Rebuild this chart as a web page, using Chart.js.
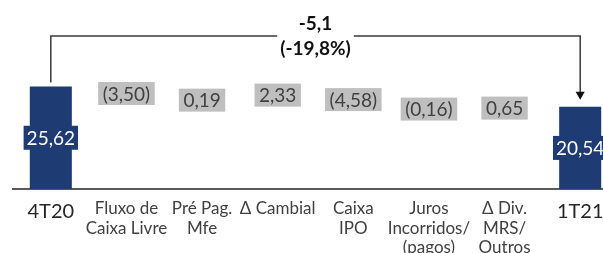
<!DOCTYPE html>
<html lang="pt">
<head>
  <meta charset="UTF-8">
  <title>Dívida Líquida 4T20 x 1T21</title>
  <script src="https://cdn.jsdelivr.net/npm/chart.js"></script>
  <style>
    html, body { margin: 0; padding: 0; overflow: hidden; background: #fff; }
    #wrap { width: 620px; height: 253px; position: relative; }
  </style>
</head>
<body>
  <div id="wrap"><canvas id="grafico"></canvas></div>

  <script>
    // dados
    const categorias = ['4T20', ['Fluxo de', 'Caixa Livre'], ['Pré Pag.', 'Mfe'], 'Δ Cambial',
      ['Caixa', 'IPO'], ['Juros', 'Incorridos/', '(pagos)'], ['Δ Div.', 'MRS/', 'Outros'], '1T21'];
    const saldoInicial = 25.62;
    const variacoes = [-3.50, 0.19, 2.33, -4.58, -0.16, 0.65];
    const saldoFinal = 20.54;
    const textoVariacao = ['-5,1', '(-19,8%)'];

    const AZUL = '#1F3B73';
    const CINZA = '#BFBFBF';
    const FONTE = 'Lato, "Noto Sans", sans-serif';

    // barras flutuantes (cascata)
    const barras = [[0, saldoInicial]];
    const valores = [saldoInicial];
    let acum = saldoInicial;
    variacoes.forEach(v => {
      barras.push([acum, acum + v]);
      valores.push(v);
      acum += v;
    });
    barras.push([0, saldoFinal]);
    valores.push(saldoFinal);

    const ultimo = barras.length - 1;
    const extremo = (i) => i === 0 || i === ultimo;
    const cores = barras.map((b, i) => extremo(i) ? AZUL : 'rgba(0,0,0,0)');

    function formatar(v) {
      const s = Math.abs(v).toFixed(2).replace('.', ',');
      return v < 0 ? '(' + s + ')' : s;
    }

    const rotulos = {
      id: 'rotulos',
      afterDatasetsDraw(chart) {
        const ctx = chart.ctx;
        const meta = chart.getDatasetMeta(0);
        const y = chart.scales.y;
        ctx.save();
        ctx.textAlign = 'center';
        ctx.textBaseline = 'middle';
        ctx.font = '19px ' + FONTE;

        meta.data.forEach((el, i) => {
          const txt = formatar(valores[i]);
          const cx = el.x;
          const cy = (el.y + el.base) / 2;
          const w = ctx.measureText(txt).width + (extremo(i) ? 6 : 9);
          const h = extremo(i) ? 24 : 23;
          ctx.fillStyle = extremo(i) ? AZUL : CINZA;
          ctx.fillRect(cx - w / 2, cy - h / 2, w, h);
          ctx.fillStyle = extremo(i) ? '#FFFFFF' : '#404040';
          ctx.fillText(txt, cx, cy + 1);
        });

        // colchete com seta entre 4T20 e 1T21
        const x0 = meta.data[0].x;
        const x1 = meta.data[ultimo].x;
        const topo = 36;
        const y0 = y.getPixelForValue(saldoInicial) - 4;
        const y1 = y.getPixelForValue(saldoFinal) - 7;
        const meio = (x0 + x1) / 2;

        ctx.font = 'bold 19px ' + FONTE;
        const largura = Math.max(...textoVariacao.map(t => ctx.measureText(t).width));
        const folga = largura / 2 + 3;

        ctx.strokeStyle = '#3A3A3A';
        ctx.lineWidth = 1.5;
        ctx.beginPath();
        ctx.moveTo(x0, y0);
        ctx.lineTo(x0, topo);
        ctx.lineTo(meio - folga, topo);
        ctx.moveTo(meio + folga, topo);
        ctx.lineTo(x1, topo);
        ctx.lineTo(x1, y1 - 7);
        ctx.stroke();

        ctx.fillStyle = '#111111';
        ctx.beginPath();
        ctx.moveTo(x1 - 4.5, y1 - 8);
        ctx.lineTo(x1 + 4.5, y1 - 8);
        ctx.lineTo(x1, y1);
        ctx.closePath();
        ctx.fill();

        ctx.fillText(textoVariacao[0], meio, 24);
        ctx.fillText(textoVariacao[1], meio, 49);
        ctx.restore();
      }
    };

    new Chart(document.getElementById('grafico'), {
      type: 'bar',
      data: {
        labels: categorias,
        datasets: [{
          data: barras,
          backgroundColor: cores,
          borderWidth: 0,
          categoryPercentage: 1,
          barPercentage: 0.556
        }]
      },
      options: {
        responsive: true,
        maintainAspectRatio: false,
        animation: false,
        layout: { padding: { top: 29, left: 13, right: 2, bottom: 0 } },
        plugins: { legend: { display: false }, tooltip: { enabled: false } },
        scales: {
          x: {
            grid: { display: false, drawTicks: false },
            border: { display: true, color: '#595959', width: 2 },
            ticks: {
              padding: 10,
              maxRotation: 0,
              autoSkip: false,
              color: (c) => extremo(c.index) ? '#262626' : '#404040',
              font: (c) => extremo(c.index)
                ? { family: FONTE, size: 20, lineHeight: 1.3 }
                : { family: FONTE, size: 17, lineHeight: 1.15 }
            },
            afterFit: (scale) => { scale.height = 64; }
          },
          y: {
            display: false,
            min: 0,
            max: 40
          }
        }
      },
      plugins: [rotulos]
    });
  </script>
</body>
</html>
